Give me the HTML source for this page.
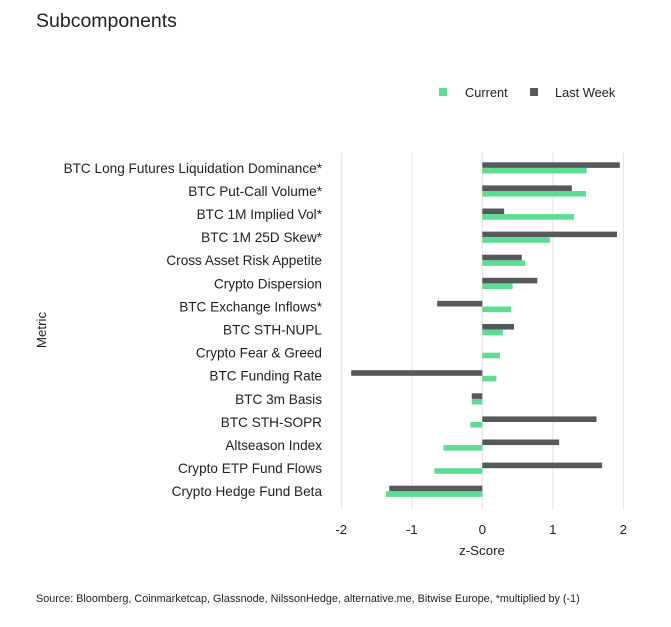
<!DOCTYPE html>
<html><head><meta charset="utf-8"><style>
body{margin:0;background:#fff;font-family:"Liberation Sans",sans-serif;}
svg text{font-family:"Liberation Sans",sans-serif;fill:#222;}
</style></head><body>
<svg id="c" width="671" height="622" xmlns="http://www.w3.org/2000/svg">
<text x="36" y="27" font-size="19.5">Subcomponents</text>
<rect x="439" y="88" width="8" height="8" fill="#5ddc94"/>
<text x="465" y="97" font-size="12.8">Current</text>
<rect x="530" y="88" width="8" height="8" fill="#55595c"/>
<text x="555" y="97" font-size="12.8">Last Week</text>
<g id="grid"></g><g id="bars"></g><g id="labels"></g>
<text x="482" y="555" font-size="13.3" text-anchor="middle">z-Score</text>
<text transform="translate(46,330) rotate(-90)" font-size="13.3" text-anchor="middle">Metric</text>
<text x="36" y="602" font-size="10.8">Source: Bloomberg, Coinmarketcap, Glassnode, NilssonHedge, alternative.me, Bitwise Europe, *multiplied by (-1)</text>
</svg>
<script>
const categories=["BTC Long Futures Liquidation Dominance*","BTC Put-Call Volume*","BTC 1M Implied Vol*","BTC 1M 25D Skew*","Cross Asset Risk Appetite","Crypto Dispersion","BTC Exchange Inflows*","BTC STH-NUPL","Crypto Fear & Greed","BTC Funding Rate","BTC 3m Basis","BTC STH-SOPR","Altseason Index","Crypto ETP Fund Flows","Crypto Hedge Fund Beta"];
const currentValues=[1.48,1.47,1.30,0.96,0.61,0.43,0.41,0.29,0.25,0.20,-0.15,-0.17,-0.55,-0.68,-1.37];
const lastWeekValues=[1.95,1.27,0.31,1.91,0.56,0.78,-0.64,0.45,0,-1.86,-0.15,1.62,1.09,1.70,-1.32];
const xTicks=[-2,-1,0,1,2];
const NS="http://www.w3.org/2000/svg";
const x=v=>482.3+v*70.5;
const rowTop=i=>162.3+i*23.1;
function mk(t,a,p){const e=document.createElementNS(NS,t);for(const k in a)e.setAttribute(k,a[k]);document.getElementById(p).appendChild(e);return e;}
xTicks.forEach(t=>{
 const l=mk('line',{x1:x(t),x2:x(t),y1:153,y2:510,stroke:'#e3e3e3','stroke-width':1},'grid');
 
 
 const tx=mk('text',{x:x(t),y:534,'font-size':13.3,'text-anchor':'middle'},'grid');
 tx.textContent=t;
 
 
});
categories.forEach((c,i)=>{
 const y=rowTop(i);
 const lw=lastWeekValues[i],cu=currentValues[i];
 if(lw!==0){const r=mk('rect',{x:Math.min(x(0),x(lw)),y:y,width:Math.abs(x(lw)-x(0)),height:5.6,fill:'#55595c'},'bars');
 
 }
 const r2=mk('rect',{x:Math.min(x(0),x(cu)),y:y+5.6,width:Math.abs(x(cu)-x(0)),height:5.6,fill:'#5ddc94'},'bars');
 
 
 const t=mk('text',{x:322,y:y+10.5,'font-size':13.6,'text-anchor':'end'},'labels');
 t.textContent=c;
 
 
});
</script>
</body></html>
